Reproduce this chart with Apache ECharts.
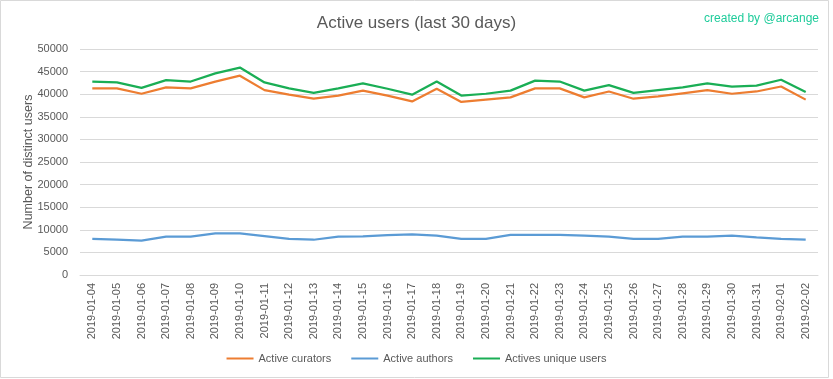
<!DOCTYPE html>
<html><head><meta charset="utf-8">
<script src="https://cdn.jsdelivr.net/npm/echarts@6/dist/echarts.min.js"></script>
<style>html,body{margin:0;padding:0;background:#fff}#c{width:833px;height:379px}</style>
</head><body><div id="c"></div>
<script>
const categories = ["2019-01-04","2019-01-05","2019-01-06","2019-01-07","2019-01-08","2019-01-09","2019-01-10","2019-01-11","2019-01-12","2019-01-13","2019-01-14","2019-01-15","2019-01-16","2019-01-17","2019-01-18","2019-01-19","2019-01-20","2019-01-21","2019-01-22","2019-01-23","2019-01-24","2019-01-25","2019-01-26","2019-01-27","2019-01-28","2019-01-29","2019-01-30","2019-01-31","2019-02-01","2019-02-02"];
const activeCurators = [41300,41300,40100,41500,41300,42800,44100,40900,39900,39000,39700,40800,39700,38400,41200,38300,38800,39300,41300,41300,39300,40600,39000,39500,40200,40900,40100,40600,41700,38800];
const activeAuthors = [8000,7800,7600,8500,8500,9200,9200,8600,8000,7800,8500,8550,8800,9000,8700,8000,8000,8900,8900,8900,8700,8500,8000,8000,8500,8500,8700,8300,8000,7800];
const activeUnique = [42800,42600,41400,43100,42800,44600,45900,42600,41300,40300,41300,42400,41200,39900,42800,39700,40100,40800,43000,42800,40800,42000,40300,40900,41500,42400,41700,41900,43200,40500];
const yTicks = {min:0, max:50000, interval:5000};

const font = 'Liberation Sans, Arial, sans-serif';
const chart = echarts.init(document.getElementById('c'));
chart.setOption({
  animation:false,
  backgroundColor:'#fff',
  title:[{text:'Active users (last 30 days)', left:'center', top:10,
    textStyle:{fontFamily:font, fontSize:17, fontWeight:'normal', color:'#595959'}},
    {text:'created by @arcange', right:9, top:8,
    textStyle:{fontFamily:font, fontSize:12, fontWeight:'normal', color:'#1fcc9b'}}],
  grid:{left:80, right:15, top:49, bottom:104},
  legend:{bottom:10, left:'center', icon:'rect', itemWidth:27, itemHeight:2, itemGap:20,
    textStyle:{fontFamily:font, fontSize:11, color:'#595959'},
    data:['Active curators','Active authors','Actives unique users']},
  xAxis:{type:'category', data:categories, boundaryGap:true,
    axisLine:{lineStyle:{color:'#d9d9d9'}}, axisTick:{show:false},
    axisLabel:{rotate:90, interval:0, fontFamily:font, fontSize:11, color:'#595959', margin:8}},
  yAxis:{type:'value', min:yTicks.min, max:yTicks.max, interval:yTicks.interval,
    name:'Number of distinct users', nameLocation:'middle', nameGap:45, nameMoveOverlap:false,
    nameTextStyle:{fontFamily:font, fontSize:12.5, color:'#595959'},
    axisLine:{show:false}, axisTick:{show:false},
    axisLabel:{fontFamily:font, fontSize:11, color:'#595959', margin:12, formatter:function(v){return String(v);}},
    splitLine:{lineStyle:{color:'#d9d9d9'}}},
  series:[
    {name:'Active curators', type:'line', data:activeCurators, showSymbol:false, symbol:'none',
      lineStyle:{width:2.25, color:'#ED7D31'}, itemStyle:{color:'#ED7D31'}},
    {name:'Active authors', type:'line', data:activeAuthors, showSymbol:false, symbol:'none',
      lineStyle:{width:2.25, color:'#5B9BD5'}, itemStyle:{color:'#5B9BD5'}},
    {name:'Actives unique users', type:'line', data:activeUnique, showSymbol:false, symbol:'none',
      lineStyle:{width:2.25, color:'#1AAE55'}, itemStyle:{color:'#1AAE55'}}
  ],
  graphic:[{type:'rect', shape:{x:0.5, y:0.5, width:828, height:377},
    style:{fill:null, stroke:'#d9d9d9', lineWidth:1}, silent:true}]
});
</script></body></html>
